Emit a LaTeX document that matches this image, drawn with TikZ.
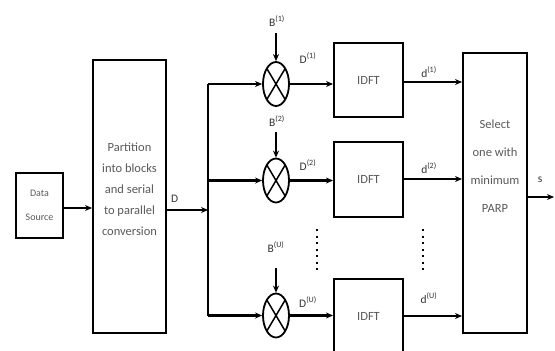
\documentclass[tikz,border=0pt]{standalone}
\usepackage{fontspec}
\setmainfont{Carlito}
\usetikzlibrary{shapes.geometric,arrows.meta}
\begin{document}
\begin{tikzpicture}[x=1pt,y=-1pt,
  blk/.style={draw,line width=2pt,rectangle,inner sep=0pt},
  btxt/.style={text=black!65,font=\fontsize{12.5}{21}\selectfont,align=center,inner sep=0pt},
  mult/.style={draw,line width=1.8pt,ellipse,minimum width=26pt,minimum height=44pt,inner sep=0pt,
    path picture={\draw[line width=1.5pt] (path picture bounding box.north west)--(path picture bounding box.south east)
      (path picture bounding box.north east)--(path picture bounding box.south west);}},
  arr/.style={line width=2.4pt,-{Stealth[length=7pt,width=6pt]}},
  wire/.style={line width=2.4pt},
  lbl/.style={font=\fontsize{11.5}{13}\selectfont,inner sep=0pt,text=black!80},
  dots/.style={line width=2pt,dash pattern=on 2pt off 4.5pt}
]
\useasboundingbox (0,0) rectangle (555,351);
% boxes
\node[blk,minimum width=47pt,minimum height=65pt] (ds) at (39.5,205.5) {};
\node[btxt,font=\fontsize{10}{24}\selectfont] (dstxt) at (39.5,205) {Data\\Source};
\node[blk,minimum width=73pt,minimum height=273pt] (part) at (129.5,196.5) {};
\node[btxt] (parttxt) at (129.5,189) {Partition\\into blocks\\and serial\\to parallel\\conversion};
\node[blk,minimum width=69pt,minimum height=74pt] (f1) at (368.5,80) {};
\node[blk,minimum width=69pt,minimum height=75pt] (f2) at (368.5,179.5) {};
\node[blk,minimum width=69pt,minimum height=75pt] (f3) at (368.5,316.5) {};
\node[btxt] (f1t) at (368.5,80) {IDFT};
\node[btxt] (f2t) at (368.5,179.5) {IDFT};
\node[btxt] (f3t) at (368.5,316.5) {IDFT};
\node[blk,minimum width=64pt,minimum height=280pt] (sel) at (495,193) {};
\node[btxt,font=\fontsize{12.5}{28}\selectfont] (seltxt) at (495,166) {Select\\one with\\minimum\\PARP};
% multipliers
\node[mult] (m1) at (276,84) {};
\node[mult] (m2) at (276,180.5) {};
\node[mult] (m3) at (276,315.5) {};
% coordinates
\coordinate (bus) at (208,210);
\coordinate (bt) at (208,84);
\coordinate (bm) at (208,180.5);
\coordinate (bb) at (208,315.5);
\coordinate (b1) at (276,33);
\coordinate (b2) at (276,132);
\coordinate (b3) at (276,268);
\coordinate (out) at (554,197);
% connectors
\draw[arr] (ds.east |- 0,208) -- (part.west |- 0,208);
\draw[arr] (part.east |- bus) -- (bus);
\draw[wire] (bt) -- (bb);
\draw[arr] (bt) -- (m1.west);
\draw[arr] (bm) -- (m2.west);
\draw[arr] (bb) -- (m3.west);
\draw[arr] (b1) -- (m1.north);
\draw[arr] (b2) -- (m2.north);
\draw[arr] (b3) -- (m3.north);
\draw[arr] (m1.east) -- (f1.west |- m1.east);
\draw[arr] (m2.east) -- (f2.west |- m2.east);
\draw[arr] (m3.east) -- (f3.west |- m3.east);
\draw[arr] (f1.east |- 0,82) -- (sel.west |- 0,82);
\draw[arr] (f2.east |- 0,179) -- (sel.west |- 0,179);
\draw[arr] (f3.east |- 0,316) -- (sel.west |- 0,316);
\draw[arr] (sel.east |- out) -- (out);
% dots
\draw[dots] (317,229) -- (317,272);
\draw[dots] (423,229) -- (423,272);
% labels
\node[lbl,anchor=west] (lD) at (171,199) {D};
\node[lbl] (lB1) at (277,21) {B\textsuperscript{(1)}};
\node[lbl] (lB2) at (277,121) {B\textsuperscript{(2)}};
\node[lbl] (lB3) at (276,247) {B\textsuperscript{(U)}};
\node[lbl] (lD1) at (308,58) {D\textsuperscript{(1)}};
\node[lbl] (lD2) at (308,165) {D\textsuperscript{(2)}};
\node[lbl] (lD3) at (308,302) {D\textsuperscript{(U)}};
\node[lbl] (ld1) at (429,72) {d\textsuperscript{(1)}};
\node[lbl] (ld2) at (429,168) {d\textsuperscript{(2)}};
\node[lbl] (ld3) at (429,298) {d\textsuperscript{(U)}};
\node[lbl] (ls) at (540,180) {s};
\end{tikzpicture}
\end{document}
